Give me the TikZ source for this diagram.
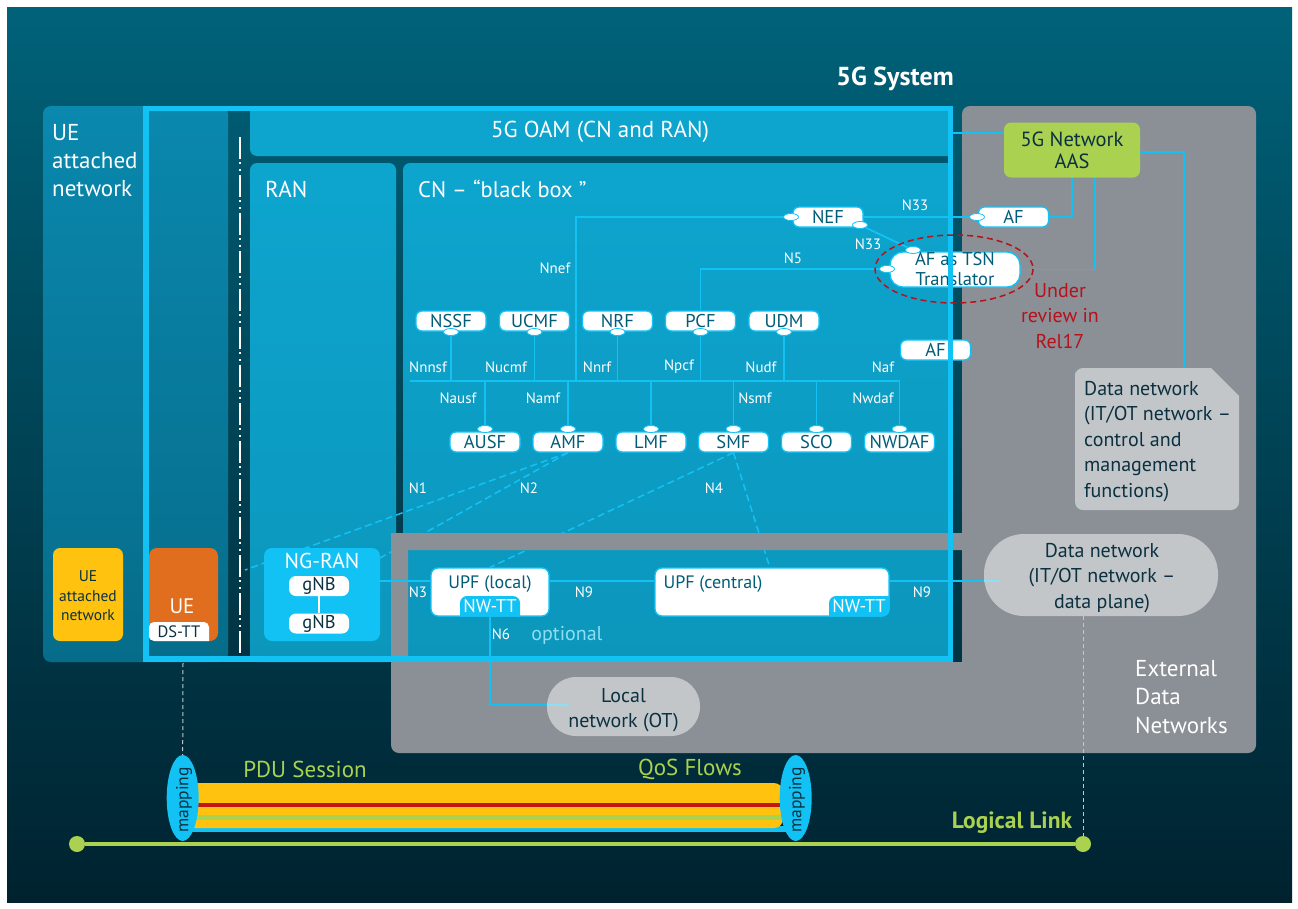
\documentclass[tikz,border=0pt]{standalone}
\usepackage{fontspec}
\setmainfont{PT Sans}
\usetikzlibrary{shapes.geometric}
\definecolor{bgtop}{HTML}{006279}
\definecolor{bgbot}{HTML}{00222F}
\definecolor{uetop}{HTML}{0A88AE}
\definecolor{uebot}{HTML}{066C8A}
\definecolor{paneltop}{HTML}{0DA5CE}
\definecolor{panelbot}{HTML}{0C96BC}
\definecolor{wire}{HTML}{13C2F5}
\definecolor{wirelight}{HTML}{8FDFF4}
\definecolor{extgrey}{HTML}{8A9096}
\definecolor{pale}{HTML}{C2C6C9}
\definecolor{limeg}{HTML}{AAD14F}
\definecolor{amber}{HTML}{FFC20E}
\definecolor{orangeue}{HTML}{E06E1E}
\definecolor{redrev}{HTML}{B5121B}
\definecolor{redline}{HTML}{C4150F}
\definecolor{tealtext}{HTML}{005C78}
\definecolor{darktext}{HTML}{0B3040}
\pgfdeclarelayer{back}
\pgfsetlayers{back,main}
\tikzset{
  nfbox/.style={draw=wire, fill=white, line width=1.3pt, rounded corners=6pt, minimum width=70pt, minimum height=20pt, inner sep=0pt, text=tealtext, font=\fontsize{18.5}{20}\selectfont},
  portdot/.style={ellipse, draw=wire, fill=white, line width=0.8pt, minimum width=15pt, minimum height=7pt, inner sep=0pt},
  link/.style={draw=wire, line width=1.8pt},
  fadelink/.style={draw=wirelight, line width=1.8pt},
  dashlink/.style={draw=wire, line width=1.5pt, dash pattern=on 7pt off 4pt},
  thindash/.style={draw=pale, line width=1pt, dash pattern=on 4pt off 3pt},
  iflabel/.style={text=white, inner sep=0pt, font=\fontsize{15}{16}\selectfont},
  title/.style={text=white, inner sep=0pt, align=left, font=\fontsize{23}{28}\selectfont},
  pill/.style={fill=pale, inner sep=0pt},
  pilltext/.style={inner sep=0pt, align=center, text=darktext, font=\fontsize{20}{25.5}\selectfont},
  gnbbox/.style={fill=white, rounded corners=7pt, minimum width=60pt, minimum height=20pt, inner sep=0pt, text=darktext, font=\fontsize{18.5}{20}\selectfont},
  upfbox/.style={draw=wire, fill=white, line width=1.3pt, rounded corners=7pt, minimum height=48pt, inner sep=0pt},
  upftext/.style={inner sep=0pt, text=tealtext, font=\fontsize{18}{20}\selectfont},
  twtext/.style={inner sep=0pt, text=white, font=\fontsize{18.5}{20}\selectfont},
  mapbubble/.style={ellipse, fill=wire, minimum width=32pt, minimum height=86pt, inner sep=0pt},
  maptext/.style={rotate=90, inner sep=0pt, text=darktext, font=\fontsize{17.5}{20}\selectfont},
  limedot/.style={circle, fill=limeg, minimum size=16pt, inner sep=0pt},
  limetext/.style={text=limeg, inner sep=0pt, font=\fontsize{23}{24}\selectfont},
}
\begin{document}
\begin{tikzpicture}[x=1pt,y=-1pt]
\useasboundingbox (0,0) rectangle (1298,908);

\node[title, font=\fontsize{26}{28}\selectfont\bfseries] (sysTitle) at (895,79) {5G System};
\node[title, anchor=north west] (ueTitle) at (52,124) {UE\\attached\\network};
\node[title] (oamTitle) at (600,131.5) {5G OAM (CN and RAN)};
\node[title, anchor=west] (ranTitle) at (265,189) {RAN};
\node[title, anchor=west, font=\fontsize{22.5}{28}\selectfont] (cnTitle) at (418,189) {CN -- “black box ”};
\node[title, anchor=north west, font=\fontsize{23}{28.5}\selectfont] (extTitle) at (1135,660) {External\\Data\\Networks};

\node[nfbox] (nssf) at (451,321) {NSSF};
\node[nfbox] (ucmf) at (534.5,321) {UCMF};
\node[nfbox] (nrf) at (617.5,321) {NRF};
\node[nfbox] (pcf) at (700.5,321) {PCF};
\node[nfbox] (udm) at (784,321) {UDM};
\node[nfbox] (ausf) at (485,442) {AUSF};
\node[nfbox] (amf) at (568,442) {AMF};
\node[nfbox] (lmf) at (651,442) {LMF};
\node[nfbox] (smf) at (733.5,442) {SMF};
\node[nfbox] (sco) at (816.5,442) {SCO};
\node[nfbox] (nwdaf) at (899.5,442) {NWDAF};
\node[nfbox] (nef) at (828,217) {NEF};
\node[nfbox] (afTop) at (1013.5,217) {AF};
\node[nfbox] (afLow) at (935.5,350) {AF};
\node[nfbox, minimum width=130pt, minimum height=35pt, rounded corners=13pt, align=center] (tsn) at (955,269.5) {AF as TSN\\Translator};

\node[portdot] (pNssf) at (451,332) {};
\node[portdot] (pUcmf) at (534.5,332) {};
\node[portdot] (pNrf) at (617.5,332) {};
\node[portdot] (pPcf) at (700.5,332) {};
\node[portdot] (pUdm) at (784,332) {};
\node[portdot] (pAusf) at (485,429) {};
\node[portdot] (pAmf) at (568,429) {};
\node[portdot] (pLmf) at (651,429) {};
\node[portdot] (pSmf) at (733.5,429) {};
\node[portdot] (pSco) at (816.5,429) {};
\node[portdot] (pNwdaf) at (899.5,429) {};
\node[portdot] (pNefW) at (791,217) {};
\node[portdot] (pNefS) at (860,225) {};
\node[portdot] (pAfTop) at (977,217) {};
\node[portdot] (pTsnW) at (887,269) {};
\node[portdot] (pTsnN) at (913,250) {};

\coordinate (busW) at (410,381);
\coordinate (busE) at (900,381);
\coordinate (nefBend) at (576,217);
\coordinate (pcfBend) at (700.5,269);
\coordinate (frameE) at (951,133);
\coordinate (n9y) at (0,581);
\coordinate (noteTop) at (1184,369);

\draw[link] (busW) -- (busE);
\draw[link] (pNssf.south) -- (pNssf|-busW);
\draw[link] (pUcmf.south) -- (pUcmf|-busW);
\draw[link] (pNrf.south) -- (pNrf|-busW);
\draw[link] (pPcf.south) -- (pPcf|-busW);
\draw[link] (pUdm.south) -- (pUdm|-busW);
\draw[link] (pAusf.north) -- (pAusf|-busW);
\draw[link] (pAmf.north) -- (pAmf|-busW);
\draw[link] (pLmf.north) -- (pLmf|-busW);
\draw[link] (pSmf.north) -- (pSmf|-busW);
\draw[link] (pSco.north) -- (pSco|-busW);
\draw[link] (pNwdaf.north) -- (pNwdaf|-busW);
\draw[link] (nefBend|-busW) -- (nefBend) -- (pNefW.west);
\draw[link] (pcf.north) -- (pcfBend) -- (pTsnW.west);
\draw[link] (nef.east) -- (pAfTop.west);
\draw[link] (pNefS) -- (pTsnN);

\node[iflabel] (lNnef) at (555,268) {Nnef};
\node[iflabel] (lN5) at (793,258) {N5};
\node[iflabel] (lN33a) at (915,205) {N33};
\node[iflabel] (lN33b) at (868,244) {N33};
\node[iflabel] (lNnnsf) at (428,367) {Nnnsf};
\node[iflabel] (lNucmf) at (506,367) {Nucmf};
\node[iflabel] (lNnrf) at (597,367) {Nnrf};
\node[iflabel] (lNpcf) at (679,367) {Npcf};
\node[iflabel] (lNudf) at (761,367) {Nudf};
\node[iflabel] (lNaf) at (883,367) {Naf};
\node[iflabel] (lNausf) at (458,398) {Nausf};
\node[iflabel] (lNamf) at (543,398) {Namf};
\node[iflabel] (lNsmf) at (755,398) {Nsmf};
\node[iflabel] (lNwdaf) at (873,398) {Nwdaf};
\node[iflabel] (lN1) at (418,488) {N1};
\node[iflabel] (lN2) at (529,488) {N2};
\node[iflabel] (lN4) at (714,488) {N4};
\node[iflabel] (lN3) at (418,592) {N3};
\node[iflabel] (lN9a) at (584,592) {N9};
\node[iflabel] (lN9b) at (922,592) {N9};
\node[iflabel] (lN6) at (501,634) {N6};
\node[iflabel] (lXn) at (333,606) {Xn};

\node[fill=limeg, rounded corners=7pt, minimum width=136pt, minimum height=55pt, inner sep=0pt, align=center, text=darktext, font=\fontsize{20.5}{22}\selectfont] (aas) at (1072,150) {5G Network\\AAS};
\draw[link] (frameE) -- (aas.west|-frameE);
\draw[link] ([yshift=-2pt]aas.east) -| (noteTop);
\draw[link] (afTop.east) -| (aas.south);
\draw[link] (tsn.east) -| ([xshift=23pt]aas.south);

\node[text=redrev, inner sep=0pt, align=center, font=\fontsize{20}{25.5}\selectfont] (review) at (1060,316) {Under\\review in\\Rel17};

\fill[pale] (1075,376) [rounded corners=8pt] -- (1075,368) [sharp corners] -- (1211,368) -- (1239,396) [rounded corners=8pt] -- (1239,510) -- (1075,510) -- cycle;
\node[anchor=north west, inner sep=0pt, align=left, text=darktext, font=\fontsize{20}{25.5}\selectfont] (noteText) at (1084,381) {Data network\\(IT/OT network --\\control and\\management\\functions)};

\fill[amber, rounded corners=7pt] (53,548) rectangle (123,641);
\node[inner sep=0pt, align=center, text=darktext, font=\fontsize{15.5}{19.5}\selectfont] (ueNet) at (88,596) {UE\\attached\\network};

\node[fill=orangeue, rounded corners=8pt, minimum width=69pt, minimum height=93pt, inner sep=0pt] (ueBox) at (183.5,594.5) {};
\node[text=white, inner sep=0pt, font=\fontsize{21}{22}\selectfont] (ueText) at (182,606) {UE};
\fill[white] (149,635) [rounded corners=5pt] -- (149,622) -- (209,622) [sharp corners] -- (209,641) [rounded corners=5pt] -- (149,641) -- cycle;
\node[inner sep=0pt, text=darktext, font=\fontsize{16.5}{18}\selectfont] (dsTT) at (179,632) {DS-TT};

\node[fill=wire, rounded corners=8pt, minimum width=116pt, minimum height=93pt, inner sep=0pt] (ngran) at (322,594.5) {};
\node[text=white, inner sep=0pt, font=\fontsize{21.5}{22}\selectfont] (ngranText) at (322,561) {NG-RAN};
\node[gnbbox] (gnbA) at (319,586) {gNB};
\node[gnbbox] (gnbB) at (319,623.5) {gNB};
\draw[white, line width=2pt] (gnbA) -- (gnbB);

\node[upfbox, minimum width=118pt] (upfL) at (490,592) {};
\node[upfbox, minimum width=234pt] (upfC) at (772,592) {};
\node[upftext] (upfLText) at (490,584) {UPF (local)};
\node[upftext] (upfCText) at (713,584) {UPF (central)};
\fill[wire] (460,616.5) [rounded corners=7pt] -- (460,596) -- (520,596) [sharp corners] -- (520,616.5) -- cycle;
\fill[wire] (829,616.5) [rounded corners=7pt] -- (829,596) [sharp corners] -- (889.5,596) [rounded corners=7pt] -- (889.5,616.5) [sharp corners] -- cycle;
\node[twtext] (twL) at (490,606.5) {NW-TT};
\node[twtext] (twC) at (859,606.5) {NW-TT};
\node[text=wirelight, inner sep=0pt, font=\fontsize{20}{22}\selectfont] (optText) at (567,635) {optional};

\node[pill, minimum width=153pt, minimum height=59pt, rounded corners=29pt] (localNet) at (623.5,706.5) {};
\node[pill, minimum width=234pt, minimum height=82pt, rounded corners=40pt] (dataNet) at (1101,575) {};

\coordinate (n6End) at (569,705);
\coordinate (n9End) at (1000,581);
\coordinate (ueDash) at (183,663);
\draw[link] (ngran.east|-n9y) -- (upfL.west|-n9y);
\draw[link] (upfL.east|-n9y) -- (upfC.west|-n9y);
\draw[link] (upfC.east|-n9y) -- (dataNet.west|-n9y);
\draw[fadelink] (dataNet.west|-n9y) -- (n9End);
\draw[link] (upfL.south) |- (localNet.west|-n6End);
\draw[fadelink] (localNet.west|-n6End) -- (n6End);
\node[pilltext] (localText) at (623.5,710) {Local\\network (OT)};
\node[pilltext] (dataText) at (1102,578) {Data network\\(IT/OT network --\\data plane)};

\fill[wire] (186,826) rectangle (790,832);
\node[fill=amber, rounded corners=9pt, minimum width=597pt, minimum height=45pt, inner sep=0pt] (tube) at (484.5,805.5) {};
\fill[redline] (186,803) rectangle (782,807);
\fill[limeg] (186,815) rectangle (782,819.5);
\node[limetext] (pduText) at (305,769) {PDU Session};
\node[limetext] (qosText) at (690,769) {QoS Flows};
\node[limetext, font=\fontsize{23.5}{24}\selectfont\bfseries] (logText) at (1012,823) {Logical Link};

\node[limedot] (linkL) at (77,844) {};
\node[limedot] (linkR) at (1083,844) {};
\draw[draw=limeg, line width=4.5pt] (linkL) -- (linkR);
\node[mapbubble] (mapL) at (182.7,798) {};
\node[mapbubble] (mapR) at (795.7,798) {};
\node[maptext] (mapLText) at (184,800) {mapping};
\node[maptext] (mapRText) at (797,800) {mapping};
\draw[thindash] (ueDash) -- (mapL.north);
\draw[thindash] ([xshift=-18pt]dataNet.south) -- (linkR.north);

\draw[wire, line width=5.5pt] (146,108.5) rectangle (950.5,659);
\draw[redrev, line width=1.5pt, dash pattern=on 6pt off 4pt] (954,269) ellipse [x radius=79, y radius=34];

\begin{pgfonlayer}{back}
\coordinate (n1End) at (245,570);
\coordinate (n2End) at (380,558);
\coordinate (n4End) at (770,568);
\fill[white] (0,0) rectangle (1298,908);
\shade[top color=bgtop, bottom color=bgbot] (7,7) rectangle (1292,902);
\shade[top color=uetop, bottom color=uebot, rounded corners=8pt] (43,106) rectangle (228,662);
\fill[paneltop] (250,108) [rounded corners=7pt] -- (250,156) [sharp corners] -- (948,156) -- (948,108) -- cycle;
\shade[top color=paneltop, bottom color=panelbot, rounded corners=7pt] (250,163) rectangle (396,662);
\shade[top color=paneltop, bottom color=panelbot] (403,170) [rounded corners=7pt] -- (403,163) [sharp corners] -- (948,163) -- (948,660) -- (403,660) -- cycle;
\draw[white, line width=1.6pt, dash pattern=on 22pt off 3pt on 2pt off 5pt on 2pt off 4pt] (240,137) -- (240,657);
\draw[dashlink] (amf.south) -- (n1End);
\draw[dashlink] (amf.south) -- (n2End);
\draw[dashlink] (smf.south) -- (upfL.north);
\draw[dashlink] (smf.south) -- (n4End);
\fill[extgrey, even odd rule] (391,533) -- (962,533) [rounded corners=8pt] -- (962,106) -- (1256,106) -- (1256,753) -- (391,753) [sharp corners] -- cycle (408,550) -- (962,550) -- (962,662) -- (408,662) -- cycle;
\end{pgfonlayer}
\end{tikzpicture}
\end{document}
